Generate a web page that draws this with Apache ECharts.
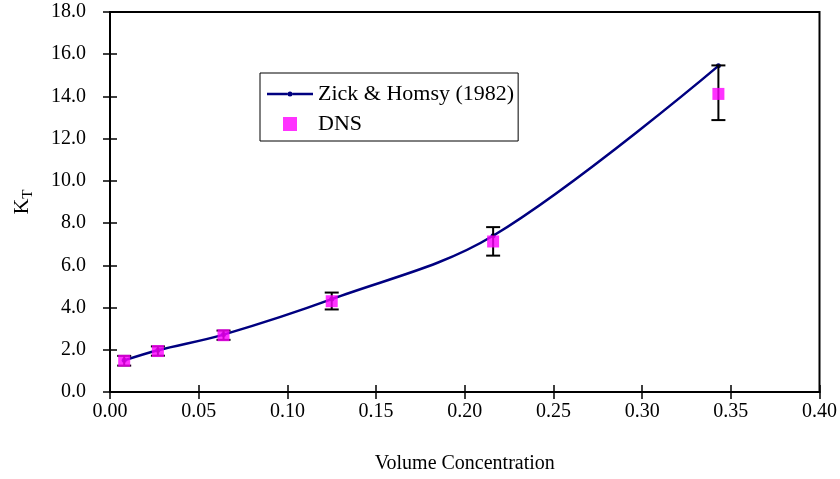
<!DOCTYPE html>
<html>
<head>
<meta charset="utf-8">
<script src="https://cdn.jsdelivr.net/npm/echarts@6/dist/echarts.min.js"></script>
<style>
  html, body { margin: 0; padding: 0; background: #fff; }
  #chart { width: 840px; height: 479px; }
</style>
</head>
<body>
<div id="chart"></div>
<script>
// Volume concentrations where both the correlation and the simulations are evaluated
var concentration = [0.008, 0.027, 0.064, 0.125, 0.216, 0.343];
// Zick & Homsy (1982) values
var zickHomsy = [1.50, 1.98, 2.72, 4.40, 7.40, 15.45];
// DNS results with error bar limits
var dnsMean = [1.48, 1.94, 2.69, 4.30, 7.13, 14.12];
var dnsLow = [1.25, 1.72, 2.47, 3.91, 6.46, 12.88];
var dnsHigh = [1.71, 2.16, 2.91, 4.71, 7.81, 15.47];
// Axis tick values
var xTicks = { min: 0, max: 0.4, interval: 0.05 };
var yTicks = { min: 0, max: 18, interval: 2 };

var serif = '"Liberation Serif", "Times New Roman", serif';

var linePts = concentration.map(function (c, i) { return [c, zickHomsy[i]]; });
var dnsPts = concentration.map(function (c, i) { return [c, dnsMean[i]]; });
var errPts = concentration.map(function (c, i) { return [c, dnsLow[i], dnsHigh[i]]; });

// Legend icons: a thin line with a small solid dot, and a filled square
var lineDotIcon = 'path://M0,6 L20.5,6 L20.5,8.5 L0,8.5 Z M25.5,6 L46,6 L46,8.5 L25.5,8.5 Z ' +
  'M20.5,7.25 A2.5,2.5 0 1,0 25.5,7.25 A2.5,2.5 0 1,0 20.5,7.25 Z';
var squareIcon = 'path://M0,0L10,0L10,10L0,10Z';

var chart = echarts.init(document.getElementById('chart'), null, { renderer: 'canvas' });

function xAxisDef(inside, main) {
  return {
    type: 'value', min: xTicks.min, max: xTicks.max, interval: xTicks.interval,
    position: 'bottom',
    name: main ? 'Volume Concentration' : '',
    nameLocation: 'middle', nameGap: 62,
    nameTextStyle: { fontFamily: serif, fontSize: 20, color: '#000' },
    axisLine: { show: main, onZero: false, lineStyle: { color: '#000', width: 2 } },
    axisTick: { show: true, inside: inside, length: 7, lineStyle: { color: '#000', width: 1.5 } },
    axisLabel: {
      show: main, margin: 10, color: '#000', fontFamily: serif, fontSize: 20,
      formatter: function (v) { return v.toFixed(2); }
    },
    splitLine: { show: false }
  };
}
function yAxisDef(inside, main) {
  return {
    type: 'value', min: yTicks.min, max: yTicks.max, interval: yTicks.interval,
    position: 'left',
    name: main ? '{k|K}{t|T}' : '',
    nameLocation: 'middle', nameGap: 74, nameRotate: 90,
    nameTextStyle: {
      fontFamily: serif, color: '#000',
      rich: {
        k: { fontFamily: serif, fontSize: 22, color: '#000', lineHeight: 28, verticalAlign: 'middle' },
        t: { fontFamily: serif, fontSize: 15, color: '#000', lineHeight: 28, verticalAlign: 'bottom' }
      }
    },
    axisLine: { show: main, onZero: false, lineStyle: { color: '#000', width: 2 } },
    axisTick: { show: true, inside: inside, length: 7, lineStyle: { color: '#000', width: 1.5 } },
    axisLabel: {
      show: main, margin: 24, color: '#000', fontFamily: serif, fontSize: 20,
      formatter: function (v) { return v.toFixed(1); }
    },
    splitLine: { show: false }
  };
}

chart.setOption({
  backgroundColor: '#fff',
  animation: false,
  grid: {
    left: 110, right: 20, top: 12, bottom: 86,
    show: true, borderColor: '#000', borderWidth: 2, backgroundColor: 'transparent'
  },
  xAxis: [xAxisDef(false, true), xAxisDef(true, false)],
  yAxis: [yAxisDef(false, true), yAxisDef(true, false)],
  legend: {
    orient: 'vertical', left: 260, top: 73,
    padding: [10, 4, 6, 7], itemGap: 8,
    itemWidth: 46, itemHeight: 14,
    borderColor: '#000', borderWidth: 1, backgroundColor: '#fff',
    textStyle: { fontFamily: serif, fontSize: 22, color: '#000' },
    data: [
      { name: 'Zick & Homsy (1982)', icon: lineDotIcon },
      { name: 'DNS', icon: squareIcon }
    ]
  },
  series: [
    {
      name: 'Zick & Homsy (1982)', type: 'line', data: linePts,
      smooth: 0.35, symbol: 'circle', symbolSize: 5,
      lineStyle: { color: '#000080', width: 2.5 },
      itemStyle: { color: '#000080' }, z: 2
    },
    {
      name: 'DNS error', type: 'custom', data: errPts, z: 3,
      encode: { x: 0, y: [1, 2] },
      renderItem: function (params, api) {
        var x = api.value(0);
        var lo = api.coord([x, api.value(1)]);
        var hi = api.coord([x, api.value(2)]);
        var cap = 7;
        var style = { stroke: '#000', lineWidth: 2 };
        return {
          type: 'group',
          children: [
            { type: 'line', shape: { x1: lo[0], y1: lo[1], x2: hi[0], y2: hi[1] }, style: style },
            { type: 'line', shape: { x1: lo[0] - cap, y1: lo[1], x2: lo[0] + cap, y2: lo[1] }, style: style },
            { type: 'line', shape: { x1: hi[0] - cap, y1: hi[1], x2: hi[0] + cap, y2: hi[1] }, style: style }
          ]
        };
      }
    },
    {
      name: 'DNS', type: 'scatter', data: dnsPts, z: 4,
      symbol: 'rect', symbolSize: 12,
      itemStyle: { color: '#ff00ff' }
    }
  ]
});
</script>
</body>
</html>
